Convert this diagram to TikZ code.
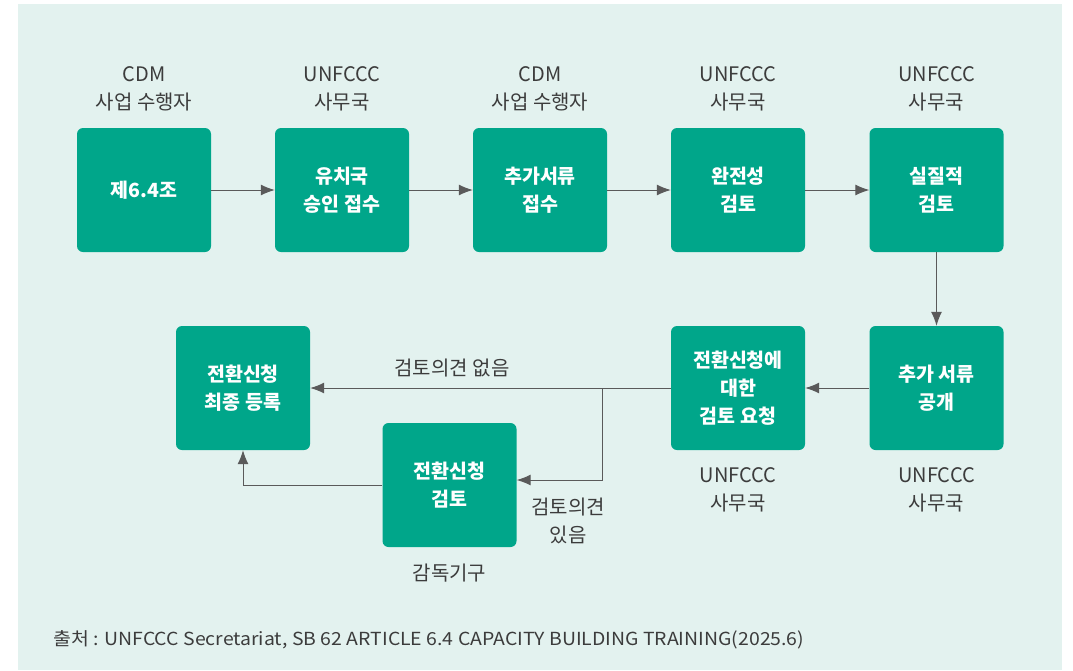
\documentclass[tikz,border=0pt]{standalone}
\usepackage{fontspec}
\setmainfont{Noto Sans CJK KR}
\usepackage{tikz}
\usetikzlibrary{positioning}
\usetikzlibrary{arrows.meta}

\definecolor{boxgreen}{RGB}{0,166,138}
\definecolor{bgmint}{RGB}{227,242,239}
\definecolor{txtgray}{RGB}{60,60,60}
\definecolor{arrgray}{RGB}{90,90,90}

\begin{document}
\begin{tikzpicture}
      [
        x=1pt, y=-1pt,
        stepbox/.style = {rectangle, rounded corners=6pt, fill=boxgreen, text=white,
            minimum width=134pt, minimum height=124pt, align=center,
            font=\fontsize{19.5}{28}\selectfont\bfseries},
        who/.style = {align=center, text=txtgray, font=\fontsize{20}{28}\selectfont},
        arr/.style = {draw=arrgray, line width=1pt, -{Latex[length=14pt,width=11pt]}}
      ]

      % background
      \useasboundingbox (0,0) rectangle (1073,670);
      \fill[white] (0,0) rectangle (1073,670);
      \fill[bgmint] (18,4) rectangle (1062,670);

      % first row
      \node[stepbox] (art) at (144,190) {제6.4조};
      \node[stepbox] (host) at (342,190) {유치국\\승인 접수};
      \node[stepbox] (docs) at (540,190) {추가서류\\접수};
      \node[stepbox] (compl) at (738,190) {완전성\\검토};
      \node[stepbox] (subst) at (936.5,190) {실질적\\검토};

      % second row
      \node[stepbox] (publ) at (936.5,388) {추가 서류\\공개};
      \node[stepbox] (req) at (738,388) {전환신청에\\대한\\검토 요청};
      \node[stepbox] (rev) at (449.5,485) {전환신청\\검토};
      \node[stepbox] (reg) at (243,388) {전환신청\\최종 등록};

      % who does what
      \node[who] (w1) at (144,89) {CDM\\사업 수행자};
      \node[who] (w2) at (342,89) {UNFCCC\\사무국};
      \node[who] (w3) at (540,89) {CDM\\사업 수행자};
      \node[who] (w4) at (738,89) {UNFCCC\\사무국};
      \node[who] (w5) at (936.5,89) {UNFCCC\\사무국};
      \node[who] (w6) at (738,490) {UNFCCC\\사무국};
      \node[who] (w7) at (936.5,490) {UNFCCC\\사무국};
      \node[who] (w8) at (449.5,573) {감독기구};

      % connectors
      \draw[arr] (art) -- (host);
      \draw[arr] (host) -- (docs);
      \draw[arr] (docs) -- (compl);
      \draw[arr] (compl) -- (subst);
      \draw[arr] (subst) -- (publ);
      \draw[arr] (publ) -- (req);
      \draw[arr] (req) -- (reg);
      \coordinate (split) at (602,388);
      \draw[arr] (split) |- ([yshift=5pt]rev.east);
      \draw[arr] (rev.west) -| (reg.south);

      \node[who] (none) at (452,368) {검토의견 없음};
      \node[who] (some) at (568,521) {검토의견\\있음};

      % source
      \node[anchor=west, inner sep=0pt, text=txtgray, font=\fontsize{18}{20}\selectfont] (src) at (53,640)
        {\scalebox{1.08}[1]{출처 : UNFCCC Secretariat, SB 62 ARTICLE 6.4 CAPACITY BUILDING TRAINING(2025.6)}};

    \end{tikzpicture}
\end{document}
